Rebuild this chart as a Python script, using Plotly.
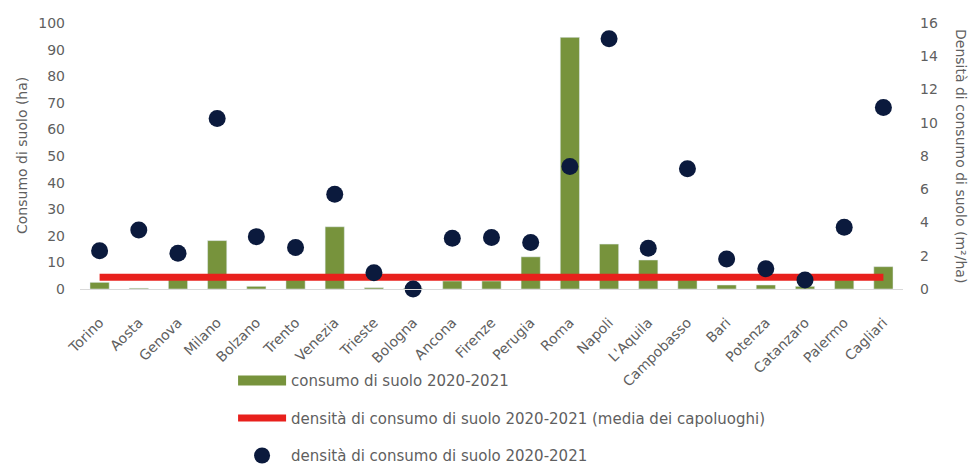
import plotly.graph_objects as go

cities = ["Torino", "Aosta", "Genova", "Milano", "Bolzano", "Trento", "Venezia", "Trieste",
          "Bologna", "Ancona", "Firenze", "Perugia", "Roma", "Napoli", "L'Aquila", "Campobasso",
          "Bari", "Potenza", "Catanzaro", "Palermo", "Cagliari"]
consumo_ha = [2.5, 0.3, 3.5, 18.2, 1.0, 3.5, 23.4, 0.5, 0.3, 3.0, 3.0, 12.1, 94.6, 16.9, 10.9,
              3.5, 1.5, 1.5, 1.0, 3.5, 8.4]
densita = [2.3, 3.55, 2.15, 10.25, 3.15, 2.5, 5.7, 0.98, 0.0, 3.05, 3.1, 2.8, 7.37, 15.05, 2.45,
           7.23, 1.8, 1.22, 0.54, 3.72, 10.92]
densita_media = 0.7
left_ticks = list(range(0, 101, 10))
right_ticks = list(range(0, 17, 2))

grey = "#5f5f5f"
fam = "DejaVu Sans, Verdana, sans-serif"
font = dict(family=fam, size=14, color=grey)

bar_color = "#77933c"
fig = go.Figure()
fig.add_trace(go.Bar(x=cities, y=consumo_ha, name="consumo di suolo 2020-2021",
                     marker_color=bar_color, width=0.49, showlegend=False))
# legend proxy for the bars (wide rectangle symbol as in the reference)
fig.add_trace(go.Scatter(x=[None], y=[None], mode="lines", name="consumo di suolo 2020-2021",
                         line=dict(color=bar_color, width=11), legendgroup="a"))
fig.add_trace(go.Scatter(x=cities, y=[densita_media] * len(cities), mode="lines", yaxis="y2",
                         name="densità di consumo di suolo 2020-2021 (media dei capoluoghi)",
                         line=dict(color="#e8201c", width=7), legendgroup="b"))
fig.add_trace(go.Scatter(x=cities, y=densita, mode="markers", yaxis="y2",
                         name="densità di consumo di suolo 2020-2021",
                         marker=dict(color="#0b1a3d", size=17), legendgroup="c", cliponaxis=False))

fig.update_layout(
    width=973, height=464,
    margin=dict(l=80, r=70, t=23, b=175, autoexpand=False),
    plot_bgcolor="white", paper_bgcolor="white",
    font=font,
    xaxis=dict(tickangle=-45, showgrid=False, showline=True, linecolor="#d9d9d9",
               range=[-0.5, len(cities) - 0.5], autorange=False,
               ticks="", automargin=False, ticklabelstandoff=19,
               tickfont=dict(size=14, color=grey)),
    yaxis=dict(range=[0, 100], tickvals=left_ticks, showgrid=False, zeroline=False,
               automargin=False, ticklabelstandoff=14,
               tickfont=dict(size=14, color=grey)),
    yaxis2=dict(range=[0, 16], tickvals=right_ticks, overlaying="y", side="right",
                showgrid=False, zeroline=False, automargin=False, ticklabelstandoff=16,
                tickfont=dict(size=14, color=grey)),
    legend=dict(orientation="v", x=0.186, xanchor="left", xref="paper",
                y=0.215, yanchor="top", yref="container",
                bgcolor="rgba(0,0,0,0)",
                traceorder="grouped", tracegroupgap=15,
                font=dict(size=15, color=grey, family=fam), itemwidth=48),
    annotations=[
        dict(text="Consumo di suolo (ha)", textangle=-90, xref="paper", yref="paper",
             x=0, xshift=-58, y=0.5, xanchor="center", yanchor="middle",
             showarrow=False, font=dict(size=14, color=grey)),
        dict(text="Densità di consumo di suolo (m²/ha)", textangle=90,
             xref="paper", yref="paper", x=1.0, xshift=58, y=0.5,
             xanchor="center", yanchor="middle",
             showarrow=False, font=dict(size=14, color=grey)),
    ],
)

fig.write_html("out.html")
